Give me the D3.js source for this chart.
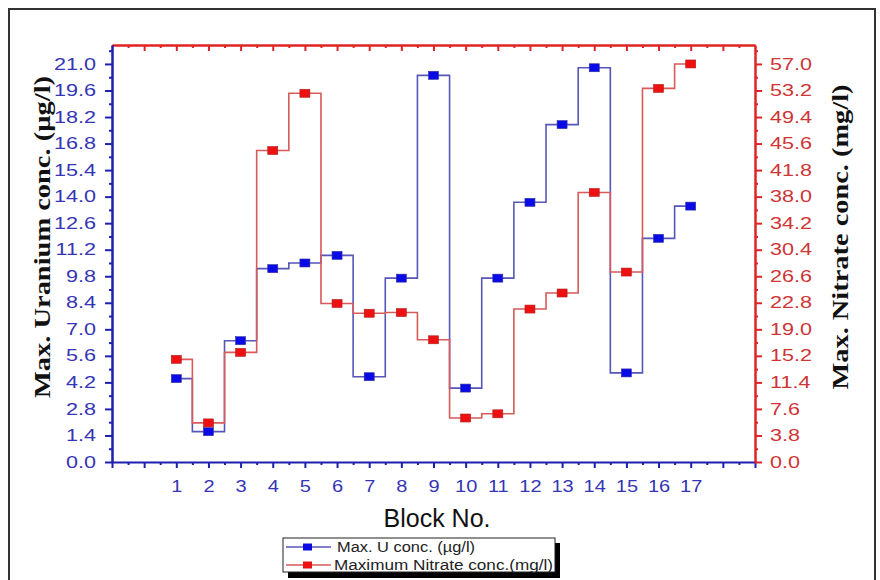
<!DOCTYPE html>
<html>
<head>
<meta charset="utf-8">
<script src="https://cdn.jsdelivr.net/npm/d3@7/dist/d3.min.js"></script>
<style>
html,body{margin:0;padding:0;background:#fff;}
svg{display:block;}
</style>
</head>
<body>
<svg id="chart" width="880" height="580"></svg>
<script>
// ---- data ----
const blocks = [1,2,3,4,5,6,7,8,9,10,11,12,13,14,15,16,17];
const uranium = [4.4,1.6,6.4,10.2,10.5,10.9,4.5,9.7,20.4,3.9,9.7,13.7,17.8,20.8,4.7,11.8,13.5];
const nitrate = [14.7,5.6,15.7,44.6,52.8,22.7,21.3,21.4,17.5,6.3,6.9,21.9,24.2,38.6,27.2,53.5,57.0];
const leftTicks = [0.0,1.4,2.8,4.2,5.6,7.0,8.4,9.8,11.2,12.6,14.0,15.4,16.8,18.2,19.6,21.0];
const rightTicks = [0.0,3.8,7.6,11.4,15.2,19.0,22.8,26.6,30.4,34.2,38.0,41.8,45.6,49.4,53.2,57.0];
const seriesNames = ["Max. U conc. (\u00b5g/l)", "Maximum Nitrate conc.(mg/l)"];

const svg = d3.select("#chart");
const L = 112, R = 755, T = 45, B = 462;
const SX = 1.35; // horizontal stretch of tick labels as in reference

const blueAxis = "#1f1fb0", blueText = "#3535b5", blueLine = "#5656b8", blueMark = "#0a0ae6";
const redAxis = "#e02424", redText = "#cf3535", redLine = "#d85a5a", redMark = "#ee1111";
const sans = "Liberation Sans, Arial, sans-serif";
const serif = "Liberation Serif, Times New Roman, serif";

// outer frame
svg.append("rect").attr("x",9).attr("y",9).attr("width",866).attr("height",590)
  .attr("fill","none").attr("stroke","#333").attr("stroke-width",2);

const x = d3.scaleLinear().domain([-1,19]).range([L,R]);
const yL = d3.scaleLinear().domain([0,22]).range([B,T]);
const yR = d3.scaleLinear().domain([0,22*57/21]).range([B,T]);

const intTicks = d3.range(-1,19.01,1);
const halfTicks = d3.range(-0.5,19,1);

function stretchLabels(g, color, dx, anchor){
  g.selectAll("text").each(function(){
    const t = d3.select(this);
    const tx = +t.attr("x") || 0;
    t.attr("fill",color).attr("font-family",sans).attr("font-size","16px")
     .attr("text-anchor",anchor);
    const parentT = d3.select(this.parentNode).attr("transform");
    t.attr("x",(tx+dx)/SX).attr("transform",`scale(${SX},1)`);
  });
}

// bottom axis
const gB = svg.append("g").attr("transform",`translate(0,${B})`);
gB.call(d3.axisBottom(x).tickValues(halfTicks).tickSize(3).tickFormat(""));
gB.call(g=>g.select(".domain").remove());
const gB2 = svg.append("g").attr("transform",`translate(0,${B})`);
gB2.call(d3.axisBottom(x).tickValues(intTicks).tickSize(6).tickSizeOuter(0)
  .tickFormat(d => (d>=1 && d<=17) ? d : ""));
[gB,gB2].forEach(g=>{
  g.selectAll("line").attr("stroke",blueAxis).attr("stroke-width",2);
  g.select(".domain").attr("stroke",blueAxis).attr("stroke-width",2);
});
gB2.selectAll("text").attr("fill",blueText).attr("font-family",sans)
   .attr("font-size","16px").attr("dy","1.3em")
   .attr("transform",`scale(1.25,1)`).attr("x",0);

// top axis (ticks inward)
const gT = svg.append("g").attr("transform",`translate(0,${T})`);
gT.call(d3.axisBottom(x).tickValues(halfTicks).tickSize(3).tickFormat("").tickSizeOuter(0));
const gT2 = svg.append("g").attr("transform",`translate(0,${T})`);
gT2.call(d3.axisBottom(x).tickValues(intTicks.slice(1,-1)).tickSize(6).tickFormat("").tickSizeOuter(0));
[gT,gT2].forEach(g=>{
  g.selectAll("line").attr("stroke",redAxis).attr("stroke-width",2);
  g.select(".domain").attr("stroke",redAxis).attr("stroke-width",2);
});

// left axis
const gLm = svg.append("g").attr("transform",`translate(${L},0)`);
gLm.call(d3.axisLeft(yL).tickValues(d3.range(0.7,22.01,1.4)).tickSize(3).tickFormat("").tickSizeOuter(0));
const gLM = svg.append("g").attr("transform",`translate(${L},0)`);
gLM.call(d3.axisLeft(yL).tickValues(leftTicks).tickSize(7).tickSizeOuter(0).tickFormat(d3.format(".1f")));
[gLm,gLM].forEach(g=>{
  g.selectAll("line").attr("stroke",blueAxis).attr("stroke-width",2);
  g.select(".domain").attr("stroke",blueAxis).attr("stroke-width",2);
});
gLM.selectAll("text").attr("fill",blueText).attr("font-family",sans).attr("font-size","16px")
   .attr("x",-16/SX).attr("transform",`scale(${SX},1)`);

// right axis
const gRm = svg.append("g").attr("transform",`translate(${R},0)`);
gRm.call(d3.axisRight(yR).tickValues(d3.range(1.9,59.7,3.8)).tickSize(3).tickFormat("").tickSizeOuter(0));
const gRM = svg.append("g").attr("transform",`translate(${R},0)`);
gRM.call(d3.axisRight(yR).tickValues(rightTicks).tickSize(7).tickSizeOuter(0).tickFormat(d3.format(".1f")));
[gRm,gRM].forEach(g=>{
  g.selectAll("line").attr("stroke",redAxis).attr("stroke-width",2);
  g.select(".domain").attr("stroke",redAxis).attr("stroke-width",2);
});
gRM.selectAll("text").attr("fill",redText).attr("font-family",sans).attr("font-size","16px")
   .attr("x",15/SX).attr("transform",`scale(${SX},1)`);

// titles
svg.append("text").attr("x",437).attr("y",527).attr("text-anchor","middle")
  .attr("font-family",sans).attr("font-size","25px").attr("fill","#111")
  .text("Block No.");
svg.append("text").attr("transform","translate(50,237) rotate(-90)").attr("text-anchor","middle")
  .attr("font-family",serif).attr("font-weight","bold")
  .attr("font-size","24px").attr("fill","#111")
  .attr("textLength",322).attr("lengthAdjust","spacingAndGlyphs")
  .text("Max. Uranium conc. (\u00b5g/l)");
svg.append("text").attr("transform","translate(848,237) rotate(-90)").attr("text-anchor","middle")
  .attr("font-family",serif).attr("font-weight","bold")
  .attr("font-size","24px").attr("fill","#111")
  .attr("textLength",305).attr("lengthAdjust","spacingAndGlyphs")
  .text("Max. Nitrate conc. (mg/l)");

// series
const uData = blocks.map((b,i)=>({b, v:uranium[i]}));
const nData = blocks.map((b,i)=>({b, v:nitrate[i]}));

svg.append("path").datum(uData)
  .attr("d", d3.line().x(d=>x(d.b)).y(d=>yL(d.v)).curve(d3.curveStep))
  .attr("fill","none").attr("stroke",blueLine).attr("stroke-width",1.6);
svg.append("path").datum(nData)
  .attr("d", d3.line().x(d=>x(d.b)).y(d=>yR(d.v)).curve(d3.curveStep))
  .attr("fill","none").attr("stroke",redLine).attr("stroke-width",1.6);

svg.append("g").selectAll("rect").data(uData).join("rect")
  .attr("x",d=>x(d.b)-5).attr("y",d=>yL(d.v)-4).attr("width",10).attr("height",8)
  .attr("fill",blueMark).attr("stroke","#3030a0").attr("stroke-width",0.6);
svg.append("g").selectAll("rect").data(nData).join("rect")
  .attr("x",d=>x(d.b)-5).attr("y",d=>yR(d.v)-4).attr("width",10).attr("height",8)
  .attr("fill",redMark).attr("stroke","#b02020").attr("stroke-width",0.6);

// legend
const lg = svg.append("g");
lg.append("rect").attr("x",288).attr("y",543).attr("width",272).attr("height",35).attr("fill","#000");
lg.append("rect").attr("x",283).attr("y",538).attr("width",272).attr("height",34)
  .attr("fill","#fff").attr("stroke","#222").attr("stroke-width",1);
const rows = [{c:blueLine, m:blueMark, y:547, len:138}, {c:redLine, m:redMark, y:565, len:219}];
rows.forEach((r,i)=>{
  lg.append("line").attr("x1",286).attr("x2",331).attr("y1",r.y).attr("y2",r.y)
    .attr("stroke",r.c).attr("stroke-width",1.4);
  lg.append("rect").attr("x",303).attr("y",r.y-3.5).attr("width",9).attr("height",7).attr("fill",r.m);
  lg.append("text").attr("x",i===0?337:334).attr("y",r.y+5)
    .attr("font-family",sans).attr("font-size","14px").attr("fill","#222")
    .attr("textLength",r.len).attr("lengthAdjust","spacingAndGlyphs")
    .text(seriesNames[i]);
});
</script>
</body>
</html>
